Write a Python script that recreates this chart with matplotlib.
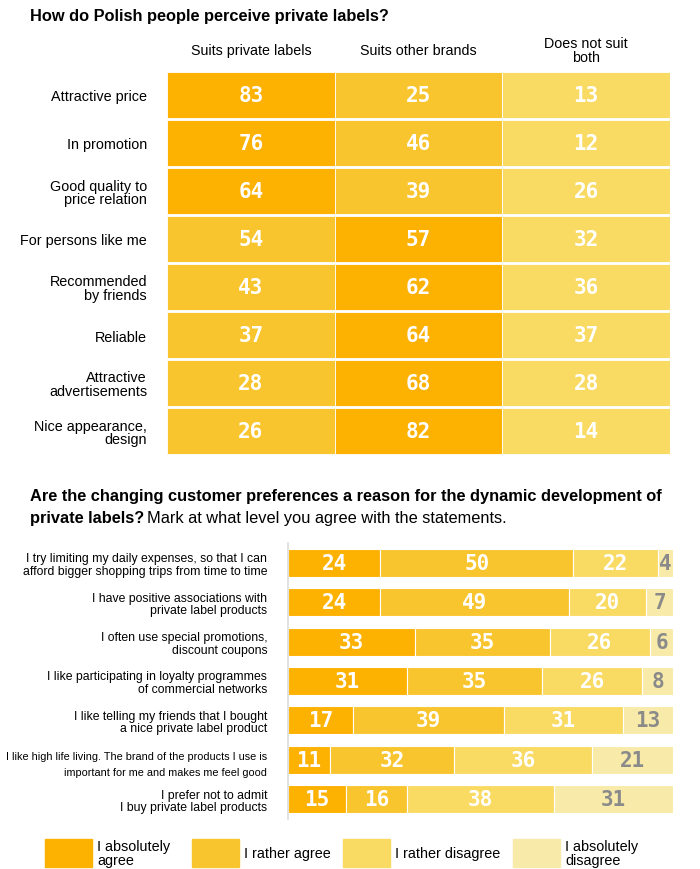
import matplotlib
matplotlib.use("Agg")
import matplotlib.pyplot as plt
from matplotlib.patches import Rectangle
import numpy as np

# ---- data: top table ----
attributes = ["Attractive price", "In promotion", "Good quality to\nprice relation",
              "For persons like me", "Recommended\nby friends", "Reliable",
              "Attractive\nadvertisements", "Nice appearance,\ndesign"]
columns = ["Suits private labels", "Suits other brands", "Does not suit\nboth"]
suits_private = [83, 76, 64, 54, 43, 37, 28, 26]
suits_other = [25, 46, 39, 57, 62, 64, 68, 82]
suits_none = [13, 12, 26, 32, 36, 37, 28, 14]

# ---- data: bottom stacked bars ----
statements = ["I try limiting my daily expenses, so that I can\nafford bigger shopping trips from time to time",
              "I have positive associations with\nprivate label products",
              "I often use special promotions,\ndiscount coupons",
              "I like participating in loyalty programmes\nof commercial networks",
              "I like telling my friends that I bought\na nice private label product",
              "I like high life living. The brand of the products I use is\nimportant for me and makes me feel good",
              "I prefer not to admit\nI buy private label products"]
abs_agree = [24, 24, 33, 31, 17, 11, 15]
rather_agree = [50, 49, 35, 35, 39, 32, 16]
rather_disagree = [22, 20, 26, 26, 31, 36, 38]
abs_disagree = [4, 7, 6, 8, 13, 21, 31]
levels = ["I absolutely\nagree", "I rather agree", "I rather disagree", "I absolutely\ndisagree"]

colors = ["#FDB100", "#F9C52E", "#F9DA63", "#F8EAA8"]
W, H = 700, 870
SANS = "Liberation Sans"
MONO = "DejaVu Sans Mono"

fig = plt.figure(figsize=(W / 100, H / 100), dpi=100)


def ax_px(left, top, right, bottom):
    return fig.add_axes([left / W, 1 - bottom / H, (right - left) / W, (bottom - top) / H])


def fx(x):
    return x / W


def fy(y):
    return 1 - y / H


# ---------- top table ----------
fig.text(fx(30), fy(16), "How do Polish people perceive private labels?", fontsize=11.8,
         fontweight="bold", family=SANS, va="center", ha="left")

ax1 = ax_px(167, 72, 670, 456)
table = np.array([suits_private, suits_other, suits_none]).T
for i, row in enumerate(table):
    # darkest colour for the highest value in a row, lightest for the lowest
    order = np.argsort(-row, kind="stable")
    rank = np.empty(3, dtype=int)
    rank[order] = np.arange(3)
    for j, v in enumerate(row):
        ax1.barh(i, 1, left=j, height=0.95, color=colors[rank[j]],
                 edgecolor="white", linewidth=0.6, align="center")
        ax1.text(j + 0.5, i, str(v), ha="center", va="center", color="white",
                 fontsize=15, fontweight="bold", family=MONO)
ax1.set_xlim(0, 3)
ax1.set_ylim(7.5, -0.5)
ax1.set_yticks(range(len(attributes)))
ax1.set_yticklabels(attributes, family=SANS, fontsize=10.4, ha="right", linespacing=0.95)
ax1.tick_params(axis="y", length=0, pad=14.4)
ax1.set_xticks([0.5, 1.5, 2.5])
ax1.set_xticklabels(columns, family=SANS, fontsize=10.3, va="center", linespacing=0.95)
ax1.xaxis.tick_top()
ax1.tick_params(axis="x", length=0, pad=15)
for s in ax1.spines.values():
    s.set_visible(False)

# ---------- bottom chart ----------
fig.text(fx(30), fy(497), "Are the changing customer preferences a reason for the dynamic development of",
         fontsize=11.8, fontweight="bold", family=SANS, va="center", ha="left")
t2 = fig.text(fx(30), fy(518), "private labels?", fontsize=11.8, fontweight="bold",
              family=SANS, va="center", ha="left")
fig.canvas.draw()
bb = t2.get_window_extent()
fig.text(bb.x1 / W + fx(3), fy(518), "Mark at what level you agree with the statements.",
         fontsize=11.8, family=SANS, va="center", ha="left")

ax2 = ax_px(288, 544, 673, 820)
series = [abs_agree, rather_agree, rather_disagree, abs_disagree]
left = np.zeros(len(statements))
for k, vals in enumerate(series):
    vals = np.array(vals)
    ax2.barh(range(len(statements)), vals, left=left, height=0.71, color=colors[k],
             edgecolor="white", linewidth=0.8)
    for i, v in enumerate(vals):
        ax2.text(left[i] + v / 2, i, str(v), ha="center", va="center",
                 color="white" if k < 3 else "#8a8a8a", fontsize=15,
                 fontweight="bold", family=MONO)
    left += vals
ax2.set_xlim(0, 100)
ax2.set_ylim(6.5, -0.5)
ax2.set_xticks([])
ax2.set_yticks(range(len(statements)))
ax2.set_yticklabels(statements, family=SANS, fontsize=8.8, ha="right", linespacing=1.05)
small = ax2.get_yticklabels()[5]
small.set_fontsize(7.8)
small.set_linespacing(1.75)
ax2.tick_params(axis="y", length=0, pad=15)
for name, s in ax2.spines.items():
    s.set_visible(name == "left")
ax2.spines["left"].set_color("#dddddd")
ax2.spines["left"].set_linewidth(1.2)

# ---------- legend ----------
box_x = [45, 192, 343, 513]
for k, lab in enumerate(levels):
    fig.add_artist(Rectangle((fx(box_x[k]), fy(868)), fx(47), 28 / H,
                             transform=fig.transFigure, color=colors[k]))
    fig.text(fx(box_x[k] + 52), fy(854), lab, fontsize=10.4, family=SANS,
             va="center", ha="left", linespacing=0.95)

fig.savefig("out.png", dpi=100)
